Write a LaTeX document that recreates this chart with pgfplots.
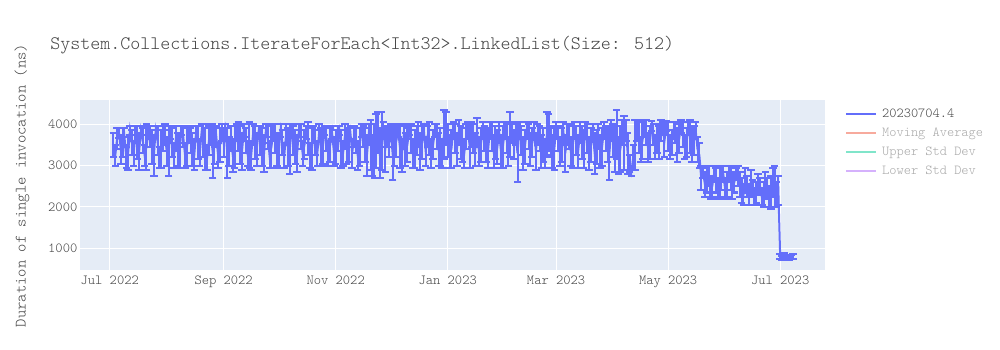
\documentclass[border=0pt]{standalone}
\usepackage{fontspec}
\newfontfamily\lmlight{Latin Modern Mono Light}
\usepackage{pgfplots}
\pgfplotsset{compat=1.18}
\usepackage{pgfplotstable}
\definecolor{bg}{HTML}{E5ECF6}
\definecolor{ser}{HTML}{636EFA}
\definecolor{txt}{HTML}{444444}
\definecolor{ltxt}{HTML}{A8A8A8}
\definecolor{mavg}{HTML}{F7AA9D}
\definecolor{ustd}{HTML}{80E5CA}
\definecolor{lstd}{HTML}{D5B1FC}

\pgfplotstableread{
x y e
2 3500 300
3 3250 250
4 3650 250
5 3800 120
6 3400 350
7 3550 350
8 3700 200
9 3200 250
10 3300 400
11 3850 100
12 3550 300
13 3300 300
14 3750 200
15 3550 400
16 3350 450
17 3850 100
18 3600 300
19 3250 250
20 3450 550
21 3800 150
22 3700 250
23 3450 400
24 3250 500
25 3850 100
26 3600 350
27 3200 250
28 3400 450
29 3650 300
30 3750 250
31 3350 350
32 3300 550
33 3800 150
34 3550 350
35 3250 300
36 3650 300
37 3400 400
38 3350 400
39 3850 100
40 3700 250
41 3250 300
42 3450 450
43 3750 200
44 3600 300
45 3400 400
46 3250 350
47 3800 150
48 3550 400
49 3300 300
50 3800 200
51 3600 400
52 3400 500
53 3200 300
54 3600 350
55 3750 250
56 3350 650
57 3500 450
58 3700 250
59 3250 300
60 3500 400
61 3800 200
62 3550 350
63 3850 150
64 3300 600
65 3350 350
66 3650 300
67 3250 400
68 3450 500
69 3800 200
70 3700 350
71 3500 450
72 3350 450
73 3850 150
74 3600 300
75 3300 300
76 3500 550
77 3250 350
78 3750 250
79 3550 400
80 3400 400
81 3800 150
82 3600 350
83 3450 450
84 3300 450
85 3850 150
86 3700 300
87 3250 300
88 3450 500
89 3800 200
90 3650 350
91 3400 400
92 3350 400
93 3850 150
94 3550 300
95 3250 300
96 3750 250
97 3450 450
98 3400 600
99 3850 150
100 3600 350
101 3450 400
102 3300 450
103 3850 150
104 3700 300
105 3300 300
106 3500 350
107 3800 150
108 3650 400
109 3250 300
110 3400 500
111 3750 200
112 3550 300
113 3300 300
114 3800 200
115 3450 450
116 3450 400
117 3850 120
118 3650 300
119 3300 300
120 3500 400
121 3800 150
122 3350 350
123 3450 400
124 3650 300
125 3850 120
126 3400 450
127 3300 300
128 3700 300
129 3450 400
130 3500 400
131 3800 150
132 3300 350
133 3700 250
134 3600 300
135 3250 350
136 3450 450
137 3850 150
138 3700 250
139 3500 400
140 3250 500
141 3750 250
142 3500 600
143 3250 500
144 3350 650
145 3600 650
146 3800 500
147 3300 600
148 3600 700
149 3850 200
150 3400 550
151 3700 250
152 3550 350
153 3800 200
154 3300 650
155 3450 450
156 3600 400
157 3850 150
158 3450 500
159 3250 400
160 3700 300
161 3400 400
162 3500 400
163 3850 120
164 3650 350
165 3300 350
166 3400 450
167 3600 350
168 3750 300
169 3350 450
170 3550 400
171 3850 150
172 3350 350
173 3700 250
174 3650 400
175 3300 350
176 3500 350
177 3850 150
178 3700 300
179 3400 400
180 3450 450
181 3300 350
182 3750 600
183 3900 400
184 3600 400
185 3350 400
186 3400 450
187 3850 200
188 3650 350
189 3400 400
190 3800 300
191 3550 400
192 3500 400
193 3300 350
194 3700 300
195 3850 200
196 3450 500
197 3750 300
198 3650 350
199 3400 400
200 3800 350
201 3350 350
202 3500 400
203 3850 200
204 3650 300
205 3500 400
206 3400 450
207 3850 200
208 3700 350
209 3350 400
210 3550 400
211 3450 400
212 3800 250
213 3350 400
214 3450 500
215 3850 200
216 3650 350
217 3350 350
218 3750 550
219 3800 250
220 3500 350
221 3750 250
222 3300 700
223 3850 200
224 3600 350
225 3300 400
226 3450 400
227 3850 200
228 3700 300
229 3400 400
230 3550 350
231 3850 200
232 3350 450
233 3750 250
234 3650 300
235 3350 400
236 3500 400
237 3300 350
238 3750 550
239 3800 450
240 3600 350
241 3350 400
242 3400 500
243 3850 200
244 3650 300
245 3350 350
246 3500 400
247 3800 250
248 3300 450
249 3750 250
250 3700 300
251 3350 350
252 3450 500
253 3850 200
254 3600 350
255 3350 400
256 3800 250
257 3550 400
258 3400 450
259 3850 200
260 3650 350
261 3300 400
262 3500 400
263 3800 200
264 3300 500
265 3450 400
266 3700 300
267 3350 400
268 3450 450
269 3850 200
270 3650 300
271 3500 400
272 3300 650
273 3850 250
274 3600 400
275 3400 550
276 3750 600
277 3250 450
278 3400 550
279 3800 300
280 3550 650
281 3850 250
282 3300 500
283 3050 200
284 2850 100
285 3200 300
286 3500 600
287 3850 250
288 3700 400
289 3400 300
290 3600 450
291 3900 200
292 3800 300
293 3450 350
294 3550 400
295 3950 120
296 3750 250
297 3450 300
298 3650 350
299 3550 400
300 3850 250
301 3900 150
302 3600 400
303 3950 120
304 3700 350
305 3450 300
306 3550 300
307 3850 200
308 3800 250
309 3500 400
310 3650 350
311 3950 150
312 3750 300
313 3450 300
314 3550 350
315 3900 150
316 3700 400
317 3500 400
318 3600 350
319 3850 200
320 3400 300
321 3250 300
322 2700 300
323 2850 150
324 2550 300
325 2650 300
326 2750 250
327 2450 250
328 2500 250
329 2800 200
330 2650 300
331 2450 250
332 2600 350
333 2700 300
334 2800 200
335 2450 250
336 2550 300
337 2800 200
338 2700 300
339 2500 300
340 2600 250
341 2800 150
342 2750 250
343 2550 300
344 2400 300
345 2300 250
346 2650 300
347 2500 250
348 2300 250
349 2600 300
350 2450 200
351 2250 200
352 2350 250
353 2550 250
354 2500 200
355 2250 200
356 2300 300
357 2550 300
358 2450 250
359 2250 250
360 2350 400
361 2600 350
362 2500 500
363 2300 300
364 2400 350
365 800 60
366 760 50
367 820 60
368 780 50
369 800 40
370 770 60
371 790 50
372 800 50
}\data

\begin{document}
\begin{tikzpicture}[x=1pt,y=1pt]
\path[use as bounding box] (0,0) rectangle (750,262.5);
\node[anchor=base west, inner sep=0pt, text=txt, font=\lmlight\fontsize{14.3}{16}\selectfont] at (37.5,225) {System.Collections.IterateForEach<Int32>.LinkedList(Size: 512)};
\node[rotate=90, inner sep=0pt, text=txt, font=\lmlight\fontsize{11.9}{13}\selectfont] at (16.5,123.4) {Duration of single invocation (ns)};
\begin{axis}[
  at={(60pt,60pt)}, anchor=south west,
  scale only axis, width=558.75pt, height=127.5pt,
  xmin=-16.2, xmax=389.4, ymin=475, ymax=4588,
  axis background/.style={fill=bg},
  axis line style={draw=none},
  major tick style={draw=none},
  grid=major, major grid style={white, line width=0.75pt},
  xtick={0,62,123,184,243,304,365},
  xticklabels={Jul 2022,Sep 2022,Nov 2022,Jan 2023,Mar 2023,May 2023,Jul 2023},
  ytick={1000,2000,3000,4000},
  /pgf/number format/assume math mode=true,
  /pgf/number format/1000 sep={},
  ticklabel style={font=\lmlight\fontsize{10.4}{11}\selectfont, text=txt},
  yticklabel style={inner sep=0pt, xshift=-1.8pt},
  xticklabel style={inner sep=0pt, yshift=-4pt},
  legend cell align=left,
  legend style={at={(1.0268,0.953)}, anchor=north west, draw=none, fill=none, inner sep=0pt,
    font=\lmlight\fontsize{10.3}{11}\selectfont, row sep=5.3pt,
    nodes={inner sep=0pt, text height=6.8pt, text depth=2.2pt}},
  legend image code/.code={\draw[#1] (0pt,0pt) -- (22.5pt,0pt); \path (26.2pt,0pt);},
]
\addplot[ser, line width=1.5pt, forget plot,
  error bars/.cd, y dir=both, y explicit,
  error bar style={line width=1.5pt, ser},
  error mark options={rotate=90, ser, mark size=2.8pt, line width=1.5pt}]
  table[x=x, y=y, y error=e] {\data};
\addlegendimage{ser, line width=1.5pt}
\addlegendentry{\textcolor{txt}{20230704.4}}
\addlegendimage{mavg, line width=1.5pt}
\addlegendentry{\textcolor{ltxt}{Moving Average}}
\addlegendimage{ustd, line width=1.5pt}
\addlegendentry{\textcolor{ltxt}{Upper Std Dev}}
\addlegendimage{lstd, line width=1.5pt}
\addlegendentry{\textcolor{ltxt}{Lower Std Dev}}
\end{axis}
\end{tikzpicture}
\end{document}
